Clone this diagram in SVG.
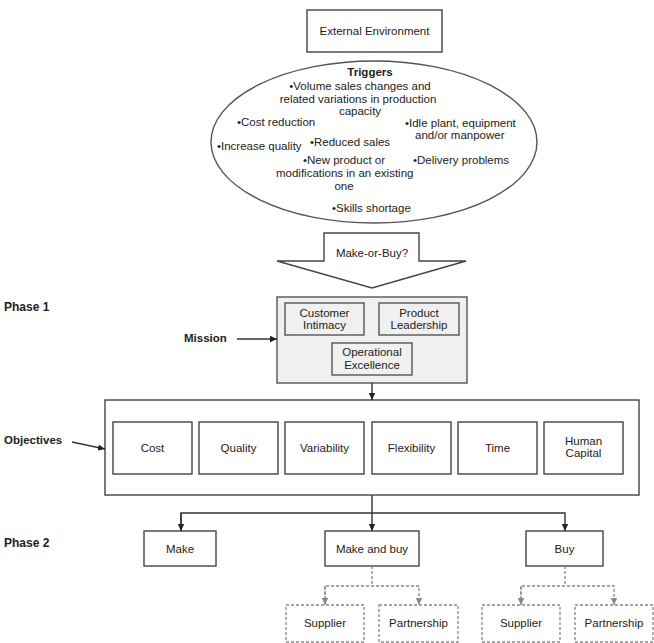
<svg xmlns="http://www.w3.org/2000/svg" width="654" height="643" viewBox="0 0 654 643">
<defs>
<style>
text{font-family:"Liberation Sans",Arial,sans-serif;font-size:11.5px;fill:#222;}
.c{text-anchor:middle;}
.b{font-weight:bold;}
.box{fill:#fff;stroke:#444;stroke-width:1.4;}
.gbox{fill:#f0f0f0;stroke:#555;stroke-width:1.4;}
.dbox{fill:#fff;stroke:#888;stroke-width:1.3;stroke-dasharray:3 2;}
.ln{fill:none;stroke:#333;stroke-width:1.4;}
.dl{fill:none;stroke:#888;stroke-width:1.3;stroke-dasharray:3 2;}
</style>
<marker id="ah" markerWidth="8" markerHeight="8" refX="7" refY="4" orient="auto" markerUnits="userSpaceOnUse"><path d="M0,0.8 L7,4 L0,7.2 Z" fill="#222"/></marker>
<marker id="ahg" markerWidth="8" markerHeight="8" refX="7" refY="4" orient="auto" markerUnits="userSpaceOnUse"><path d="M0,0.8 L7,4 L0,7.2 Z" fill="#888"/></marker>
</defs>
<rect width="654" height="643" fill="#fff"/>

<g id="external">
<rect class="box" x="307" y="10" width="135" height="42"/>
<text class="c" x="374.5" y="35">External Environment</text>
</g>

<g id="triggers">
<ellipse cx="374" cy="142" rx="163" ry="81" fill="#fff" stroke="#555" stroke-width="1.4"/>
<text class="c b" x="370" y="76">Triggers</text>
<text class="c" x="360" y="90">•Volume sales changes and</text>
<text class="c" x="358" y="103">related variations in production</text>
<text class="c" x="360" y="115">capacity</text>
<text x="237" y="126">•Cost reduction</text>
<text x="405" y="127">•Idle plant, equipment</text>
<text x="415" y="139">and/or manpower</text>
<text x="217" y="150">•Increase quality</text>
<text x="310" y="146">•Reduced sales</text>
<text x="303" y="164">•New product or</text>
<text x="276" y="177">modifications in an existing</text>
<text class="c" x="344" y="190">one</text>
<text x="413" y="164">•Delivery problems</text>
<text x="332" y="212">•Skills shortage</text>
</g>

<g id="makeorbuy">
<polygon points="324,233 419,233 419,261 466,261 372,288 277,261 324,261" fill="#fff" stroke="#444" stroke-width="1.4"/>
<text class="c" x="372" y="257">Make-or-Buy?</text>
</g>

<g id="labels">
<text class="b" x="4" y="311" style="font-size:12px">Phase 1</text>
<text class="b" x="184" y="342">Mission</text>
<text class="b" x="4" y="444">Objectives</text>
<text class="b" x="4" y="547" style="font-size:12px">Phase 2</text>
</g>

<g id="mission">
<rect class="gbox" x="277" y="297" width="190" height="86"/>
<rect class="gbox" x="285" y="303" width="79" height="32"/>
<text class="c" x="324.5" y="317">Customer</text>
<text class="c" x="324.5" y="329">Intimacy</text>
<rect class="gbox" x="379" y="303" width="80" height="32"/>
<text class="c" x="419" y="317">Product</text>
<text class="c" x="419" y="329">Leadership</text>
<rect class="gbox" x="332" y="343" width="80" height="32"/>
<text class="c" x="372" y="356">Operational</text>
<text class="c" x="372" y="369">Excellence</text>
</g>

<g id="objectives">
<rect class="box" x="105" y="400" width="534" height="95"/>
<rect class="box" x="113" y="422" width="79" height="52"/>
<text class="c" x="152.5" y="452">Cost</text>
<rect class="box" x="199" y="422" width="79" height="52"/>
<text class="c" x="238.5" y="452">Quality</text>
<rect class="box" x="285" y="422" width="79" height="52"/>
<text class="c" x="324.5" y="452">Variability</text>
<rect class="box" x="372" y="422" width="79" height="52"/>
<text class="c" x="411.5" y="452">Flexibility</text>
<rect class="box" x="458" y="422" width="79" height="52"/>
<text class="c" x="497.5" y="452">Time</text>
<rect class="box" x="544" y="422" width="79" height="52"/>
<text class="c" x="583.5" y="445">Human</text>
<text class="c" x="583.5" y="457">Capital</text>
</g>

<g id="make"><rect class="box" x="144" y="531" width="72" height="35"/><text class="c" x="180" y="553">Make</text></g>
<g id="makeandbuy"><rect class="box" x="325" y="531" width="94" height="35"/><text class="c" x="372" y="553">Make and buy</text></g>
<g id="buy"><rect class="box" x="526" y="531" width="77" height="35"/><text class="c" x="564.5" y="553">Buy</text></g>

<g id="supplier1"><rect class="dbox" x="286" y="605" width="78" height="37"/><text class="c" x="325" y="627">Supplier</text></g>
<g id="partnership1"><rect class="dbox" x="379" y="605" width="79" height="37"/><text class="c" x="418.5" y="627">Partnership</text></g>
<g id="supplier2"><rect class="dbox" x="482" y="605" width="78" height="37"/><text class="c" x="521" y="627">Supplier</text></g>
<g id="partnership2"><rect class="dbox" x="575" y="605" width="78" height="37"/><text class="c" x="614" y="627">Partnership</text></g>

<g id="connectors">
<line class="ln" x1="237" y1="339" x2="277" y2="339" marker-end="url(#ah)"/>
<line class="ln" x1="72" y1="442" x2="105" y2="449" marker-end="url(#ah)"/>
<line class="ln" x1="372" y1="383" x2="372" y2="400" marker-end="url(#ah)"/>
<line class="ln" x1="372" y1="495" x2="372" y2="531" marker-end="url(#ah)"/>
<polyline class="ln" points="181,531 181,513 565,513 565,531" marker-end="url(#ah)"/>
<line class="ln" x1="181" y1="513" x2="181" y2="531" marker-end="url(#ah)"/>
<line class="dl" x1="372" y1="566" x2="372" y2="586"/>
<polyline class="dl" points="325,605 325,586 419,586 419,605" marker-end="url(#ahg)"/>
<line class="dl" x1="325" y1="586" x2="325" y2="605" marker-end="url(#ahg)"/>
<line class="dl" x1="565" y1="566" x2="565" y2="586"/>
<polyline class="dl" points="521,605 521,586 614,586 614,605" marker-end="url(#ahg)"/>
<line class="dl" x1="521" y1="586" x2="521" y2="605" marker-end="url(#ahg)"/>
</g>
</svg>
